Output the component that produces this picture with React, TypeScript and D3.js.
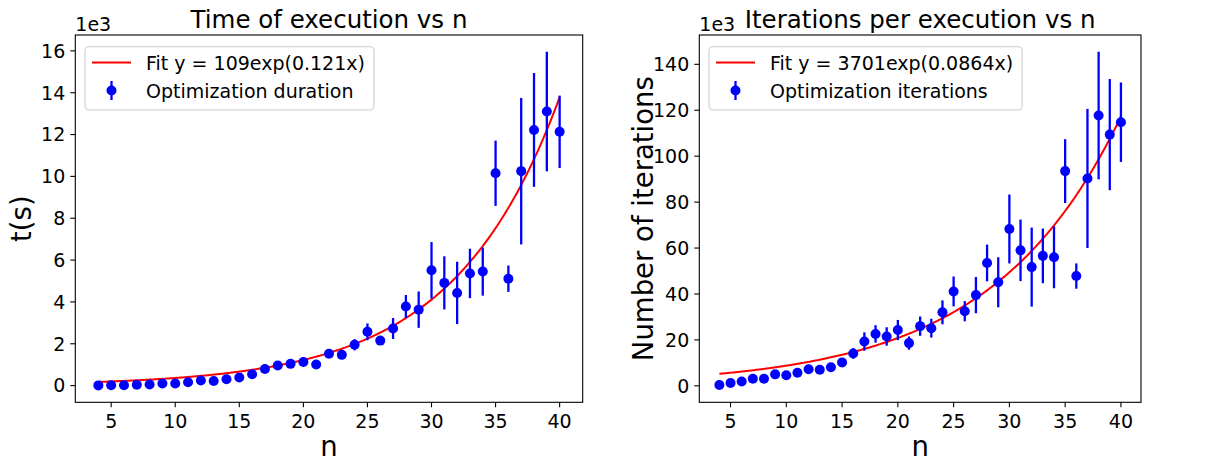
import React, { useEffect, useRef } from "react";
import * as d3 from "d3";

// ---------- data ----------
const nValues = [4, 5, 6, 7, 8, 9, 10, 11, 12, 13, 14, 15, 16, 17, 18, 19, 20, 21, 22, 23, 24, 25, 26, 27, 28, 29, 30, 31, 32, 33, 34, 35, 36, 37, 38, 39, 40];

// execution time, in units of 1e3 s
const durationMean = [0.01, 0.02, 0.02, 0.04, 0.05, 0.1, 0.1, 0.16, 0.24, 0.22, 0.3, 0.39, 0.54, 0.79, 0.96, 1.04, 1.13, 1.01, 1.52, 1.47, 1.95, 2.57, 2.15, 2.73, 3.78, 3.63, 5.51, 4.91, 4.43, 5.36, 5.45, 10.15, 5.11, 10.25, 12.22, 13.1, 12.13];
const durationErr = [0.01, 0.01, 0.01, 0.01, 0.02, 0.02, 0.02, 0.02, 0.03, 0.03, 0.03, 0.03, 0.04, 0.05, 0.06, 0.06, 0.08, 0.06, 0.2, 0.12, 0.27, 0.4, 0.2, 0.5, 0.55, 0.87, 1.35, 1.27, 1.49, 1.18, 1.15, 1.56, 0.63, 3.5, 2.72, 2.86, 1.73];

// iterations, in units of 1e3
const iterationMean = [0.4, 1.2, 1.9, 3.1, 3.1, 5.0, 4.6, 5.7, 7.2, 7.0, 8.1, 10.2, 14.1, 19.3, 22.6, 21.5, 24.3, 18.6, 26.0, 25.1, 32.0, 41.1, 32.5, 39.5, 53.5, 45.1, 68.3, 59.0, 51.7, 56.6, 56.0, 93.5, 47.8, 90.3, 117.7, 109.4, 114.8];
const iterationErr = [0.3, 0.4, 0.4, 0.5, 0.5, 0.6, 0.6, 0.7, 0.7, 0.8, 1.0, 1.2, 2.3, 4.0, 3.8, 4.0, 4.4, 2.9, 4.2, 4.1, 5.2, 6.5, 4.4, 7.9, 8.0, 10.9, 15.0, 13.4, 17.2, 11.9, 13.5, 13.9, 5.5, 30.3, 27.8, 24.2, 17.3];

// exponential fits y = a * exp(b * n), as printed in the legends
const durationFitA = 109;
const durationFitB = 0.121;
const iterationFitA = 3701;
const iterationFitB = 0.0864;

const xTicks = [5, 10, 15, 20, 25, 30, 35, 40];
const durationTicks = [0, 2, 4, 6, 8, 10, 12, 14, 16];
const iterationTicks = [0, 20, 40, 60, 80, 100, 120, 140];

const titles = ["Time of execution vs n", "Iterations per execution vs n"];
const yLabels = ["t(s)", "Number of iterations"];
const fitLabels = ["Fit y = 109exp(0.121x)", "Fit y = 3701exp(0.0864x)"];
const pointLabels = ["Optimization duration", "Optimization iterations"];

const FONT = "'DejaVu Sans', Verdana, sans-serif";

export default function App() {
  const ref = useRef<SVGSVGElement | null>(null);

  useEffect(() => {
    const svg = d3.select(ref.current);
    svg.selectAll("*").remove();

    const panels = [
      { left: 75.3, right: 582.7, mean: durationMean, err: durationErr, a: durationFitA, b: durationFitB, ticks: durationTicks, ylabX: 31 },
      { left: 699.3, right: 1141, mean: iterationMean, err: iterationErr, a: iterationFitA, b: iterationFitB, ticks: iterationTicks, ylabX: 653 },
    ];
    const top = 35;
    const bottom = 402.3;

    panels.forEach((p, i) => {
      const g = svg.append("g");
      const xExt = d3.extent(nValues) as [number, number];
      const xPad = (xExt[1] - xExt[0]) * 0.05;
      const x = d3.scaleLinear().domain([xExt[0] - xPad, xExt[1] + xPad]).range([p.left, p.right]);
      const lo = d3.min(p.mean.map((m, k) => m - p.err[k])) as number;
      const hi = d3.max(p.mean.map((m, k) => m + p.err[k])) as number;
      const yPad = (hi - lo) * 0.05;
      const y = d3.scaleLinear().domain([lo - yPad, hi + yPad]).range([bottom, top]);

      const clipId = `clip${i}`;
      svg.append("defs").append("clipPath").attr("id", clipId)
        .append("rect").attr("x", p.left).attr("y", top).attr("width", p.right - p.left).attr("height", bottom - top);

      // fit curve
      const fitX = d3.range(xExt[0], xExt[1] + 1e-9, 0.1);
      const line = d3.line<number>().x((v) => x(v)).y((v) => y((p.a * Math.exp(p.b * v)) / 1000));
      g.append("path").attr("d", line(fitX) as string).attr("fill", "none")
        .attr("stroke", "#ff0000").attr("stroke-width", 2).attr("clip-path", `url(#${clipId})`);

      // error bars
      g.append("g").selectAll("line").data(nValues).join("line")
        .attr("x1", (d) => x(d)).attr("x2", (d) => x(d))
        .attr("y1", (_d, k) => y(p.mean[k] - p.err[k]))
        .attr("y2", (_d, k) => y(p.mean[k] + p.err[k]))
        .attr("stroke", "#0000ff").attr("stroke-width", 2.3);
      g.append("g").selectAll("circle").data(nValues).join("circle")
        .attr("cx", (d) => x(d)).attr("cy", (_d, k) => y(p.mean[k]))
        .attr("r", 5).attr("fill", "#0000ff");

      // spines
      g.append("rect").attr("x", p.left).attr("y", top).attr("width", p.right - p.left).attr("height", bottom - top)
        .attr("fill", "none").attr("stroke", "#000").attr("stroke-width", 1.1);

      // x ticks
      const xt = g.append("g");
      xTicks.forEach((t) => {
        xt.append("line").attr("x1", x(t)).attr("x2", x(t)).attr("y1", bottom).attr("y2", bottom + 5)
          .attr("stroke", "#000").attr("stroke-width", 1.1);
        xt.append("text").attr("x", x(t)).attr("y", bottom + 26).attr("text-anchor", "middle")
          .attr("font-family", FONT).attr("font-size", 19).attr("fill", "#000").text(String(t));
      });
      // y ticks
      const yt = g.append("g");
      p.ticks.forEach((t) => {
        yt.append("line").attr("x1", p.left - 5).attr("x2", p.left).attr("y1", y(t)).attr("y2", y(t))
          .attr("stroke", "#000").attr("stroke-width", 1.1);
        yt.append("text").attr("x", p.left - 10).attr("y", y(t)).attr("dy", "0.36em").attr("text-anchor", "end")
          .attr("font-family", FONT).attr("font-size", 19).attr("fill", "#000").text(String(t));
      });

      // offset text
      g.append("text").attr("x", p.left).attr("y", 31).attr("font-family", FONT).attr("font-size", 19)
        .attr("fill", "#000").text("1e3");
      // title
      g.append("text").attr("x", (p.left + p.right) / 2).attr("y", 28).attr("text-anchor", "middle")
        .attr("font-family", FONT).attr("font-size", 24.5).attr("fill", "#000").text(titles[i]);
      // x label
      g.append("text").attr("x", (p.left + p.right) / 2).attr("y", 456).attr("text-anchor", "middle")
        .attr("font-family", FONT).attr("font-size", 27.5).attr("fill", "#000").text("n");
      // y label
      g.append("text").attr("transform", `translate(${p.ylabX},${(top + bottom) / 2}) rotate(-90)`)
        .attr("text-anchor", "middle").attr("font-family", FONT).attr("font-size", 27.5).attr("fill", "#000")
        .text(yLabels[i]);

      // legend
      const lg = g.append("g");
      const bx = p.left + 9.7;
      const by = 46.7;
      const frame = lg.append("rect").attr("x", bx).attr("y", by).attr("height", 63.3).attr("rx", 4)
        .attr("fill", "#fff").attr("fill-opacity", 0.8).attr("stroke", "#cccccc").attr("stroke-width", 1.1);
      lg.append("line").attr("x1", bx + 7).attr("x2", bx + 46).attr("y1", 62.5).attr("y2", 62.5)
        .attr("stroke", "#ff0000").attr("stroke-width", 2);
      lg.append("line").attr("x1", bx + 26.5).attr("x2", bx + 26.5).attr("y1", 81).attr("y2", 100)
        .attr("stroke", "#0000ff").attr("stroke-width", 2.3);
      lg.append("circle").attr("cx", bx + 26.5).attr("cy", 90.5).attr("r", 5).attr("fill", "#0000ff");
      const t1 = lg.append("text").attr("x", bx + 61).attr("y", 69.5).attr("font-family", FONT).attr("font-size", 19)
        .attr("fill", "#000").text(fitLabels[i]);
      const t2 = lg.append("text").attr("x", bx + 61).attr("y", 97.5).attr("font-family", FONT).attr("font-size", 19)
        .attr("fill", "#000").text(pointLabels[i]);
      const w = Math.max((t1.node() as SVGTextElement).getComputedTextLength(), (t2.node() as SVGTextElement).getComputedTextLength());
      frame.attr("width", 61 + w + 9);
    });
  }, []);

  return (
    <svg ref={ref} width={1225} height={463}
      style={{ position: "absolute", left: 0, top: 0, background: "#fff", display: "block" }} />
  );
}
